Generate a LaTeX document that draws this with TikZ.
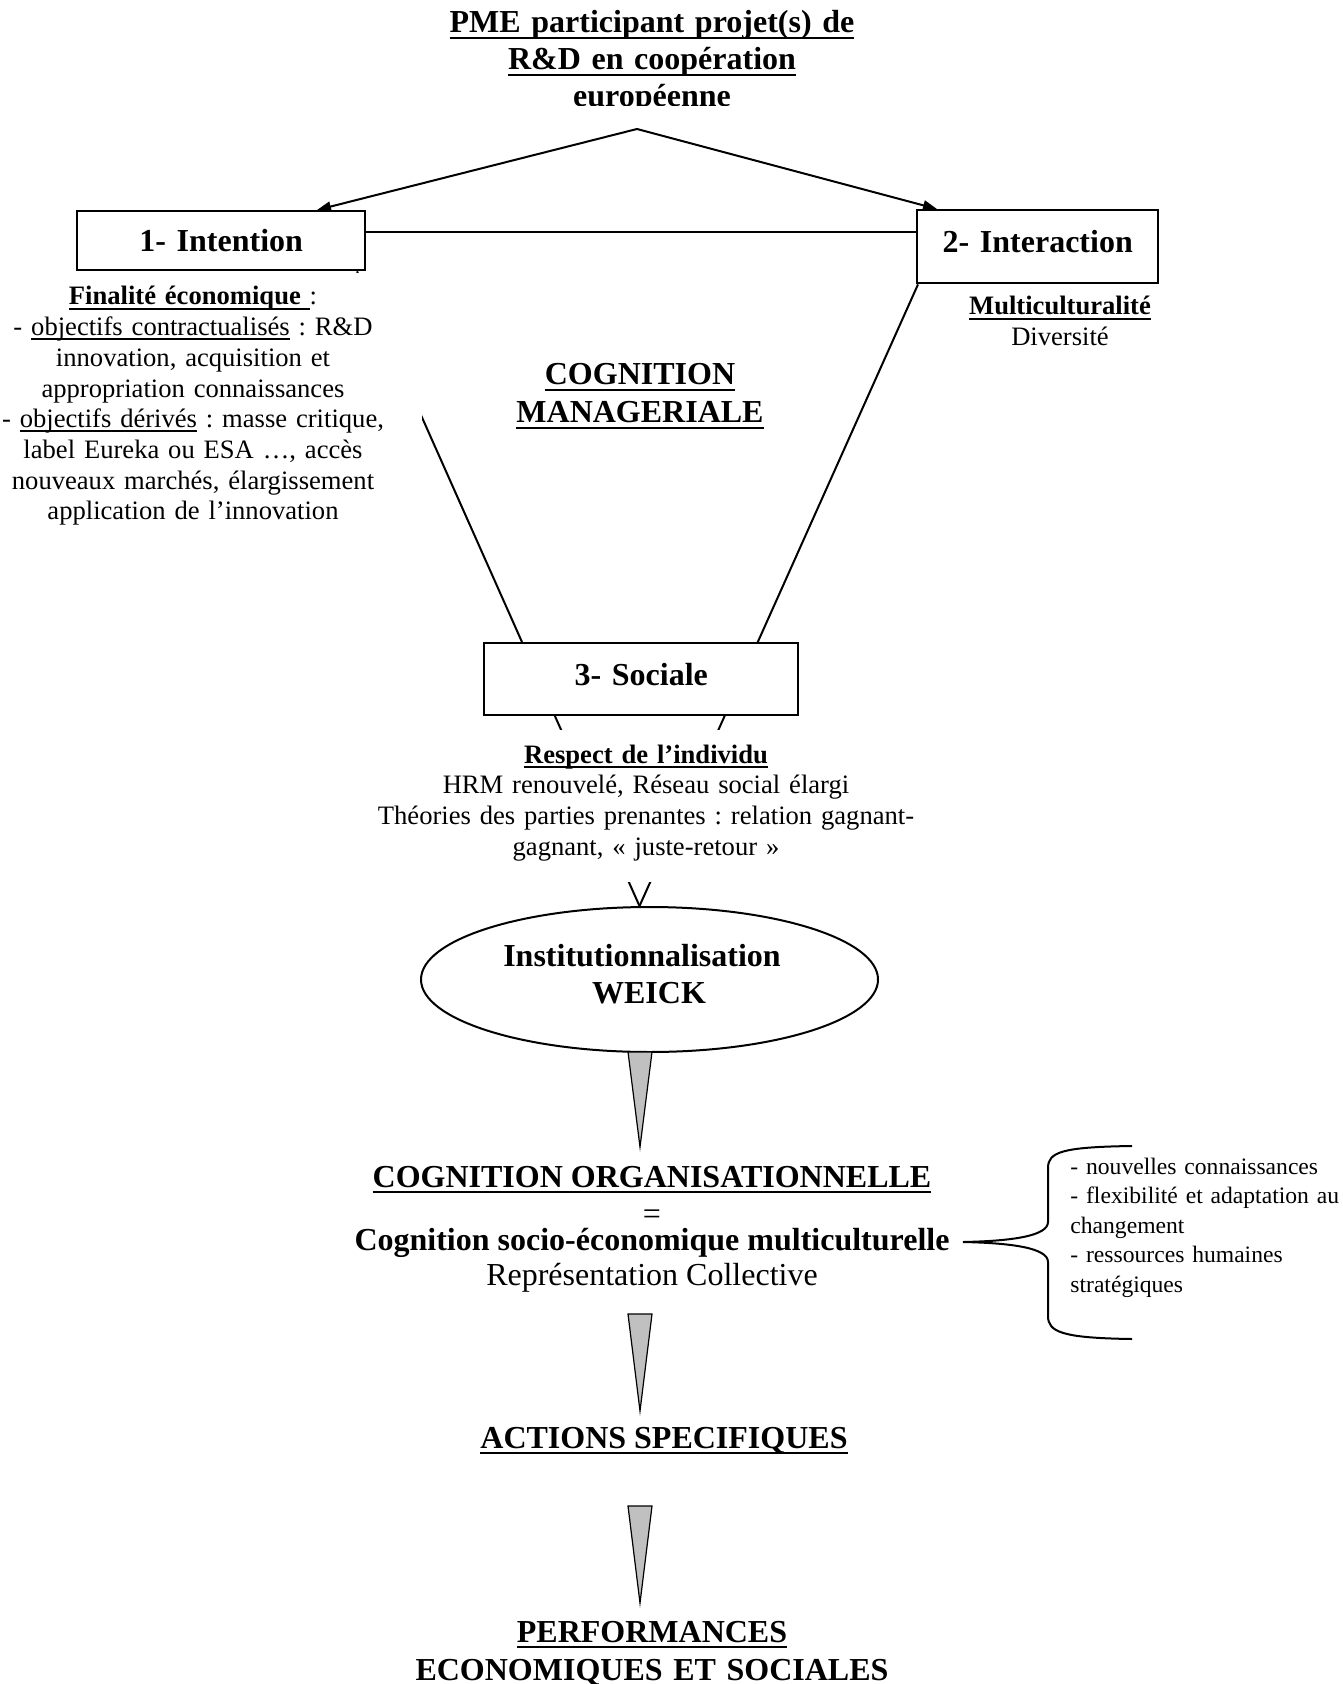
\documentclass[tikz,border=0pt]{standalone}
\usepackage{fontspec}
\setmainfont{Liberation Serif}
\usetikzlibrary{arrows.meta,calc,shapes.geometric}
\frenchspacing

\definecolor{conegray}{RGB}{192,192,192}

% underlines: thick for bold headings, thin for regular text
\newcommand\ulb[1]{\leavevmode\setbox0=\hbox{#1}\rlap{\rule[-0.2em]{\wd0}{0.09em}}\box0\relax}
\newcommand\ulr[1]{\leavevmode\setbox0=\hbox{#1}\rlap{\rule[-0.15em]{\wd0}{0.06em}}\box0\relax}

\tikzset{
  big/.style={font=\fontsize{16pt}{18.5pt}\selectfont\bfseries, inner sep=0pt},
  bigreg/.style={font=\fontsize{16pt}{18.5pt}\selectfont, inner sep=0pt},
  body/.style={font=\fontsize{13.3pt}{15.35pt}\selectfont, inner sep=0pt},
  listtext/.style={font=\fontsize{11.8pt}{14.8pt}\selectfont, inner sep=0pt},
  stage/.style={draw, line width=1.2pt, fill=white, inner sep=0pt, align=center,
    font=\fontsize{16pt}{18.5pt}\selectfont\bfseries},
  link/.style={line width=1pt},
  cone/.style={draw, line width=0.6pt, fill=conegray, line join=miter},
  tip/.style={-{Triangle[length=7pt,width=5pt]}},
}

\begin{document}
\begin{tikzpicture}[x=0.5pt, y=-0.5pt]
  \path[fill=white, use as bounding box] (0,0) rectangle (1342,1684);

  % heading (its last line is cut by the frame)
  \begin{scope}
    \clip (0,0) rectangle (1342,106);
    \node[big, text width=300pt, align=center, anchor=base] (title) at (652,33)
      {\ulb{PME participant projet(s) de}\\\ulb{R\&D en coopération}\\européenne};
  \end{scope}

  % the three dimensions
  \node[stage, text width=144pt, text height=20pt, text depth=9.5pt, anchor=north west]
    (box1) at (76,210) {1- Intention};
  \node[stage, text width=120.5pt, text height=21pt, text depth=15.5pt, anchor=north west]
    (box2) at (916,209) {2- Interaction};
  \node[ellipse, draw, line width=1pt, fill=white, minimum width=228.5pt,
    minimum height=72.5pt, inner sep=0pt] (inst) at (649.5,979.5) {};

  \coordinate (apex) at (637,129);
  \coordinate (meet) at ($(inst.north)+(-10,0)$);

  \draw[link, tip] (apex) -- ($(box1.north west)+(241,0)$);
  \draw[link, tip] (apex) -- ($(box2.north west)+(21,0)$);
  \draw[link] ($(box1.north east)+(0,22)$) -- ($(box2.north west)+(0,23)$);
  \draw[link] ($(box1.south west)+(281,0)$) -- (meet);
  \draw[link] ($(box2.south west)+(2,0)$) -- (meet);

  % commentary blocks (opaque, they hide the lines behind them)
  \node[body, fill=white, text width=215pt, align=center, inner xsep=7pt, inner ysep=7pt,
    text height=9pt, text depth=112.5pt, anchor=base] (goal) at (193,305)
    {\ulb{\textbf{Finalité économique\ }}:\\
     - \ulr{objectifs contractualisés} : R\&D\\
     innovation, acquisition et\\
     appropriation connaissances\\
     - \ulr{objectifs dérivés} : masse critique,\\
     label Eureka ou ESA …, accès\\
     nouveaux marchés, élargissement\\
     application de l’innovation};

  \node[body, text width=120pt, align=center, anchor=base] (multi) at (1060,315)
    {\ulb{\textbf{Multiculturalité}}\\Diversité};

  \node[big, font=\fontsize{16pt}{19pt}\selectfont\bfseries, text width=200pt,
    align=center, anchor=base] (cogman) at (640,385)
    {\ulb{COGNITION}\\\ulb{MANAGERIALE}};

  \node[body, fill=white, text width=280pt, align=center, inner xsep=7pt, inner ysep=7pt,
    text height=9.5pt, text depth=52.5pt, anchor=base] (social) at (646,763)
    {\ulb{\textbf{Respect de l’individu}}\\
     HRM renouvelé, Réseau social élargi\\
     Théories des parties prenantes : relation gagnant-\\
     gagnant, « juste-retour »};

  \node[stage, text width=157pt, text height=21pt, text depth=15pt, anchor=north west]
    (box3) at (483,642) {3- Sociale};

  \node[big, anchor=base] (instA) at (642,966) {Institutionnalisation};
  \node[big, anchor=base] (instB) at (649,1003) {WEICK};

  % organisational cognition
  \node[big, anchor=base] (cogorg) at (652,1187) {\ulb{COGNITION ORGANISATIONNELLE}};
  \node[bigreg, anchor=base, text height=6pt, text depth=0pt] (equal) at (652,1224) {=};
  \node[big, anchor=base] (cogsoc) at (652,1250) {Cognition socio-économique multiculturelle};
  \node[bigreg, anchor=base] (repr) at (652,1285) {Représentation Collective};

  % brace and its list
  \draw[link] (1132,1146) .. controls (1062,1147) and (1048,1152) .. (1048,1168)
    -- (1048,1222) .. controls (1048,1236) and (1012,1241) .. (963,1242)
    .. controls (1012,1243) and (1048,1248) .. (1048,1262)
    -- (1048,1316) .. controls (1048,1332) and (1062,1338) .. (1132,1339);
  \node[listtext, text width=150pt, align=left, anchor=base west] (effects) at (1070,1174)
    {- nouvelles connaissances\\
     - flexibilité et adaptation au\\
     changement\\
     - ressources humaines\\
     stratégiques};

  \node[big, anchor=base] (actions) at (664,1448) {\ulb{ACTIONS SPECIFIQUES}};
  \node[big, font=\fontsize{16pt}{19pt}\selectfont\bfseries, text width=300pt,
    align=center, anchor=base] (perf) at (652,1642)
    {\ulb{PERFORMANCES}\\\ulb{ECONOMIQUES ET SOCIALES}};

  % tapered grey arrows
  \coordinate (k1) at (640,1052);  \coordinate (k1tip) at (640,1147);
  \coordinate (k2) at (640,1314);  \coordinate (k2tip) at (640,1411);
  \coordinate (k3) at (640,1506);  \coordinate (k3tip) at (640,1603);
  \draw[cone] ($(k1)+(-12,0)$) -- ($(k1)+(12,0)$) -- (k1tip) -- cycle;
  \draw[cone] ($(k2)+(-12,0)$) -- ($(k2)+(12,0)$) -- (k2tip) -- cycle;
  \draw[cone] ($(k3)+(-12,0)$) -- ($(k3)+(12,0)$) -- (k3tip) -- cycle;
\end{tikzpicture}
\end{document}
